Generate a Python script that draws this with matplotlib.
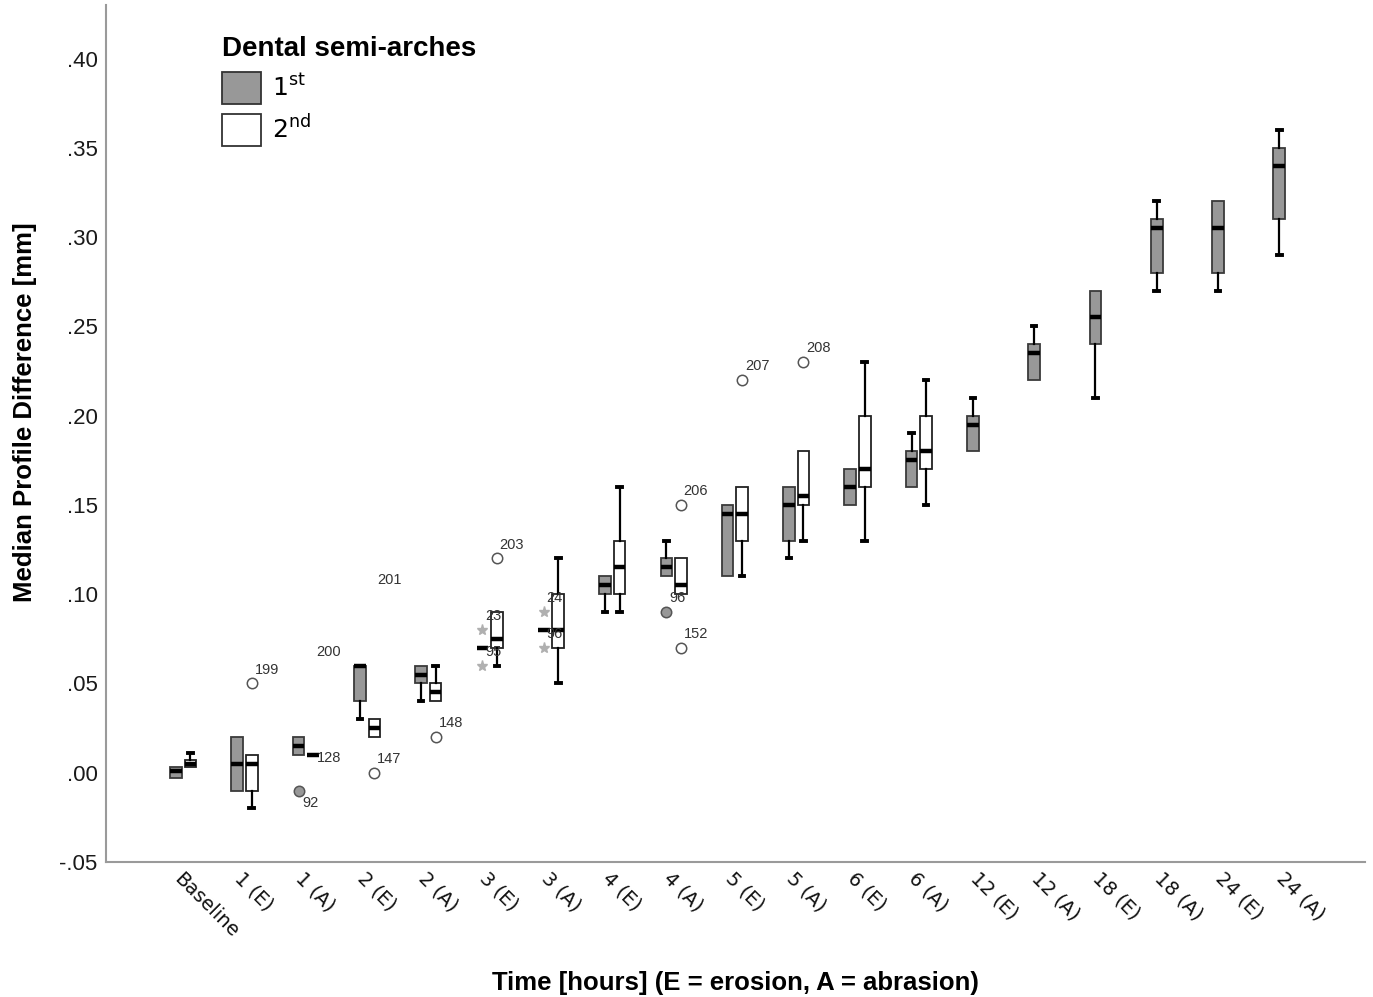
import matplotlib
matplotlib.use("Agg")
import matplotlib.pyplot as plt
from matplotlib.patches import Patch
from matplotlib.ticker import FixedLocator, FuncFormatter

plt.rcParams['mathtext.fontset'] = 'dejavusans'

# categories on the x axis
categorias = ['Baseline', '1 (E)', '1 (A)', '2 (E)', '2 (A)', '3 (E)', '3 (A)',
              '4 (E)', '4 (A)', '5 (E)', '5 (A)', '6 (E)', '6 (A)',
              '12 (E)', '12 (A)', '18 (E)', '18 (A)', '24 (E)', '24 (A)']

# 1st semi-arch (grey), all 19 time points
p_q1 = [-0.003, -0.01, 0.01, 0.04, 0.05, 0.07, 0.08, 0.10, 0.11, 0.11, 0.13, 0.15, 0.16,
        0.18, 0.22, 0.24, 0.28, 0.28, 0.31]
p_med = [0.001, 0.005, 0.015, 0.06, 0.055, 0.07, 0.08, 0.105, 0.115, 0.145, 0.15, 0.16, 0.175,
         0.195, 0.235, 0.255, 0.305, 0.305, 0.34]
p_q3 = [0.003, 0.02, 0.02, 0.06, 0.06, 0.07, 0.08, 0.11, 0.12, 0.15, 0.16, 0.17, 0.18,
        0.20, 0.24, 0.27, 0.31, 0.32, 0.35]
p_lo = [-0.003, -0.01, 0.01, 0.03, 0.04, 0.07, 0.08, 0.09, 0.11, 0.11, 0.12, 0.15, 0.16,
        0.18, 0.22, 0.21, 0.27, 0.27, 0.29]
p_hi = [0.003, 0.02, 0.02, 0.06, 0.06, 0.07, 0.08, 0.11, 0.13, 0.15, 0.16, 0.17, 0.19,
        0.21, 0.25, 0.27, 0.32, 0.32, 0.36]

# 2nd semi-arch (white), only up to 6 (A)
s_q1 = [0.003, -0.01, 0.01, 0.02, 0.04, 0.07, 0.07, 0.10, 0.10, 0.13, 0.15, 0.16, 0.17]
s_med = [0.005, 0.005, 0.01, 0.025, 0.045, 0.075, 0.08, 0.115, 0.105, 0.145, 0.155, 0.17, 0.18]
s_q3 = [0.007, 0.01, 0.01, 0.03, 0.05, 0.09, 0.10, 0.13, 0.12, 0.16, 0.18, 0.20, 0.20]
s_lo = [0.003, -0.02, 0.01, 0.02, 0.04, 0.06, 0.05, 0.09, 0.10, 0.11, 0.13, 0.13, 0.15]
s_hi = [0.011, 0.01, 0.01, 0.03, 0.06, 0.09, 0.12, 0.16, 0.12, 0.16, 0.18, 0.23, 0.22]

# outliers: category, semi-arch, value, case label, marker kind
out_cat = ['1 (E)', '1 (A)', '1 (A)', '1 (A)', '2 (E)', '2 (E)', '2 (A)', '3 (E)', '3 (E)',
           '3 (E)', '3 (A)', '3 (A)', '4 (A)', '4 (A)', '4 (A)', '5 (E)', '5 (A)']
out_arco = [2, 1, 2, 2, 2, 2, 2, 1, 1, 2, 1, 1, 1, 2, 2, 2, 2]
out_val = [0.05, -0.01, 0.06, 0.01, 0.0, 0.10, 0.02, 0.08, 0.06, 0.12, 0.09, 0.07,
           0.09, 0.07, 0.15, 0.22, 0.23]
out_rot = ['199', '92', '200', '128', '147', '201', '148', '23', '95', '203', '24', '96',
           '96', '152', '206', '207', '208']
out_tipo = ['o', 'o', '', '', 'o', '', 'o', '*', '*', 'o', '*', '*', 'o', 'o', 'o', 'o', 'o']

cinza = '#989898'
desl = 0.118
larg = 0.19

fig = plt.figure(figsize=(13.73, 9.97), dpi=100)
ax = fig.add_axes([106 / 1373, 1 - 862 / 997, (1365 - 106) / 1373, (862 - 5) / 997])


def monta(q1, med, q3, lo, hi):
    return [dict(q1=a, med=b, q3=c, whislo=d, whishi=e, fliers=[])
            for a, b, c, d, e in zip(q1, med, q3, lo, hi)]


def desenha(stats, pos, cor, borda):
    r = ax.bxp(stats, positions=pos, widths=larg, patch_artist=True, showfliers=False,
               manage_ticks=False, capwidths=0.075,
               boxprops=dict(facecolor=cor, edgecolor=borda, linewidth=1.3),
               medianprops=dict(color='black', linewidth=3.2, solid_capstyle='butt'),
               whiskerprops=dict(color='black', linewidth=1.6),
               capprops=dict(color='black', linewidth=2.8))
    # hide caps of zero-length whiskers
    for i, s in enumerate(stats):
        if s['whislo'] >= s['q1']:
            r['caps'][2 * i].set_visible(False)
        if s['whishi'] <= s['q3']:
            r['caps'][2 * i + 1].set_visible(False)
    return r


st1 = monta(p_q1, p_med, p_q3, p_lo, p_hi)
st2 = monta(s_q1, s_med, s_q3, s_lo, s_hi)
desenha(st1, [i - desl for i in range(len(st1))], cinza, '#3a3a3a')
desenha(st2, [i + desl for i in range(len(st2))], 'white', '#222222')

# outliers and case labels
for c, a, v, rot, t in zip(out_cat, out_arco, out_val, out_rot, out_tipo):
    x = categorias.index(c) + (-desl if a == 1 else desl)
    if t == 'o':
        fc = cinza if a == 1 else 'white'
        ax.plot(x, v, 'o', ms=7.5, mfc=fc, mec='#555555', mew=1.1, zorder=4)
    elif t == '*':
        ax.plot(x, v, '*', ms=8, color='#b0b0b0', zorder=4)
    if rot == '92':
        ax.annotate(rot, (x, v), xytext=(3, -4), textcoords='offset points', ha='left',
                    va='top', fontsize=10.5, color='#333333', family='Liberation Sans')
    elif rot == '128':
        ax.annotate(rot, (x, v), xytext=(3, -2), textcoords='offset points', ha='left',
                    va='center', fontsize=10.5, color='#333333', family='Liberation Sans')
    else:
        ax.annotate(rot, (x, v), xytext=(2, 5), textcoords='offset points', ha='left',
                    va='bottom', fontsize=10.5, color='#333333', family='Liberation Sans')

ax.set_xlim(-1.26, 19.28)
ax.set_ylim(-0.05, 0.43)

ax.yaxis.set_major_locator(FixedLocator([-0.05, 0, 0.05, 0.10, 0.15, 0.20, 0.25, 0.30, 0.35, 0.40]))
ax.yaxis.set_major_formatter(FuncFormatter(lambda v, p: ('%.2f' % v).replace('0.', '.')))
ax.tick_params(axis='y', length=0, pad=6, labelsize=16)
for t in ax.get_yticklabels():
    t.set_family('Liberation Sans')
    t.set_color('#1a1a1a')

ax.set_xticks(range(len(categorias)))
ax.set_xticklabels(categorias, rotation=-45, ha='left', va='top', rotation_mode='anchor',
                   fontsize=14, family='DejaVu Sans', color='#111111')
ax.tick_params(axis='x', length=0, pad=5)

for lado in ['top', 'right']:
    ax.spines[lado].set_visible(False)
for lado in ['left', 'bottom']:
    ax.spines[lado].set_color('#9a9a9a')
    ax.spines[lado].set_linewidth(1.5)

ax.set_ylabel('Median Profile Difference [mm]', fontsize=18.5, fontweight='bold',
              family='Liberation Sans')
ax.yaxis.set_label_coords(-69 / 1259, (862 - 412) / 857)
fig.text(735 / 1373, 1 - 983 / 997, 'Time [hours] (E = erosion, A = abrasion)', fontsize=18.5,
         fontweight='bold', family='Liberation Sans', ha='center', va='center')

# legend
mao = [Patch(facecolor=cinza, edgecolor='#333333', linewidth=1.3),
       Patch(facecolor='white', edgecolor='#333333', linewidth=1.3)]
leg = fig.legend(mao, [r'1$^{\mathrm{st}}$', r'2$^{\mathrm{nd}}$'],
                 title='Dental semi-arches', loc='upper left',
                 bbox_to_anchor=(222 / 1373, 1 - 36 / 997), frameon=False,
                 prop={'family': 'DejaVu Sans', 'size': 18},
                 title_fontproperties={'family': 'Liberation Sans', 'weight': 'bold', 'size': 20},
                 handlelength=1.55, handleheight=1.6, handletextpad=0.45, labelspacing=0.4,
                 borderpad=0, borderaxespad=0, alignment='left')

fig.savefig('out.png', dpi=100)
